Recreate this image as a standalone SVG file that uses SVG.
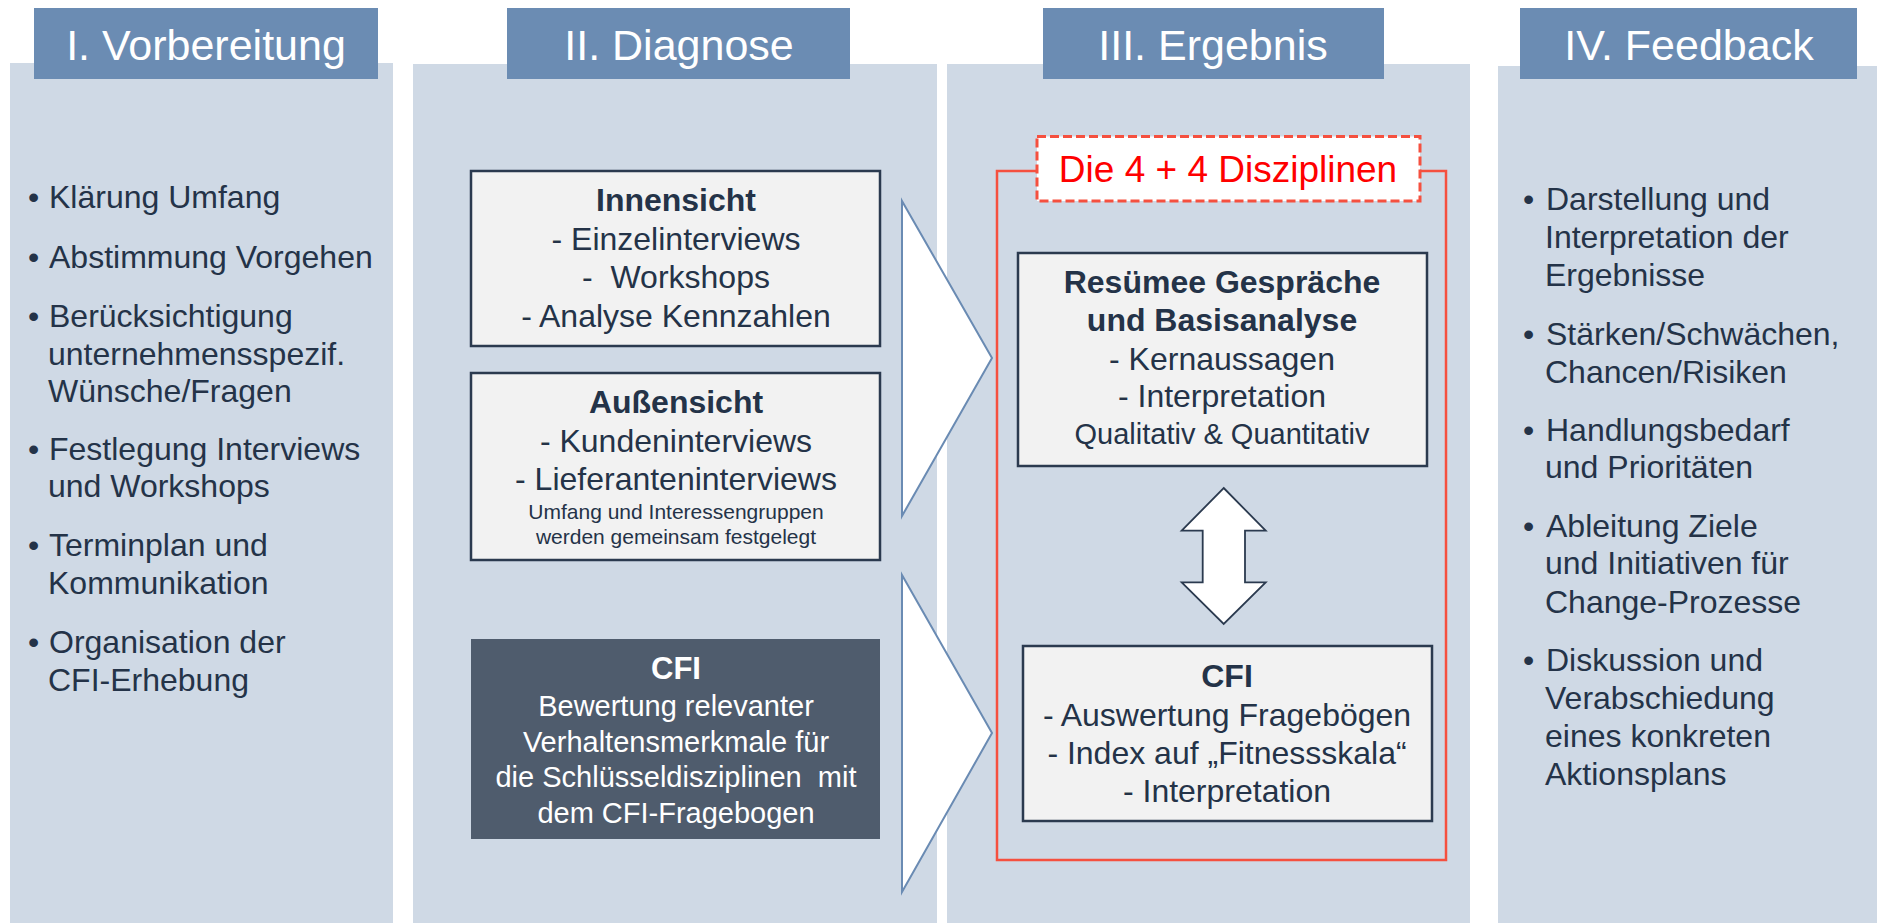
<svg xmlns="http://www.w3.org/2000/svg" width="1877" height="923" viewBox="0 0 1877 923">
<style>
.bg{fill:#CFD9E5}
.hd{fill:#6B8CB3}
.ht{font-family:"Liberation Sans",Arial,sans-serif;font-size:43px;fill:#fff;text-anchor:middle}
.t{font-family:"Liberation Sans",Arial,sans-serif;font-size:32px;fill:#243348}
.w{fill:#fff}
.c{text-anchor:middle}
.b{font-weight:bold}
.s{font-size:21px}
.q{font-size:29px}
.m{font-size:29px}
.box{fill:#F2F2F2;stroke:#2B3A4F;stroke-width:2.5}
.dark{fill:#4F5C6D}
.tri{fill:#fff;stroke:#6A8BB3;stroke-width:2}
.dbl{fill:#fff;stroke:#2B3A4F;stroke-width:1.8}
.frame{fill:none;stroke:#F5503F;stroke-width:2.5}
.lbl{fill:#fff;stroke:#F5503F;stroke-width:3;stroke-dasharray:9 4}
.red{font-family:"Liberation Sans",Arial,sans-serif;font-size:37px;fill:#FF0000;text-anchor:middle}
</style>
<rect width="1877" height="923" fill="#fff"/>

<g id="col1">
<rect class="bg" x="10" y="63" width="383" height="860"/>
<rect class="hd" x="34" y="8" width="344" height="71"/>
<text class="ht" x="206" y="60">I. Vorbereitung</text>
<g class="t">
<text x="28" y="208">•</text><text x="49" y="208">Klärung Umfang</text>
<text x="28" y="268">•</text><text x="49" y="268">Abstimmung Vorgehen</text>
<text x="28" y="327">•</text><text x="49" y="327">Berücksichtigung</text>
<text x="48" y="365">unternehmensspezif.</text>
<text x="48" y="402">Wünsche/Fragen</text>
<text x="28" y="460">•</text><text x="49" y="460">Festlegung Interviews</text>
<text x="48" y="497">und Workshops</text>
<text x="28" y="556">•</text><text x="49" y="556">Terminplan und</text>
<text x="48" y="594">Kommunikation</text>
<text x="28" y="653">•</text><text x="49" y="653">Organisation der</text>
<text x="48" y="691">CFI-Erhebung</text>
</g>
</g>

<g id="col2">
<rect class="bg" x="413" y="64" width="524" height="859"/>
<rect class="hd" x="507" y="8" width="343" height="71"/>
<text class="ht" x="679" y="60">II. Diagnose</text>
</g>

<g id="col3">
<rect class="bg" x="947" y="64" width="523" height="859"/>
<rect class="hd" x="1043" y="8" width="341" height="71"/>
<text class="ht" x="1213" y="60">III. Ergebnis</text>
</g>

<g id="col4">
<rect class="bg" x="1498" y="66" width="379" height="857"/>
<rect class="hd" x="1520" y="8" width="337" height="71"/>
<text class="ht" x="1689" y="60">IV. Feedback</text>
<g class="t">
<text x="1523" y="210">•</text><text x="1546" y="210">Darstellung und</text>
<text x="1545" y="248">Interpretation der</text>
<text x="1545" y="286">Ergebnisse</text>
<text x="1523" y="345">•</text><text x="1546" y="345">Stärken/Schwächen,</text>
<text x="1545" y="383">Chancen/Risiken</text>
<text x="1523" y="441">•</text><text x="1546" y="441">Handlungsbedarf</text>
<text x="1545" y="478">und Prioritäten</text>
<text x="1523" y="537">•</text><text x="1546" y="537">Ableitung Ziele</text>
<text x="1545" y="574">und Initiativen für</text>
<text x="1545" y="613">Change-Prozesse</text>
<text x="1523" y="671">•</text><text x="1546" y="671">Diskussion und</text>
<text x="1545" y="709">Verabschiedung</text>
<text x="1545" y="747">eines konkreten</text>
<text x="1545" y="785">Aktionsplans</text>
</g>
</g>

<g id="connectors">
<path class="tri" d="M902,201 L992,358 L902,516 Z"/>
<path class="tri" d="M902,575 L992,733 L902,892 Z"/>
<path class="dbl" d="M1223.7,488 L1265.7,530.7 L1245,530.7 L1245,582.3 L1265.7,582.3 L1223.7,624 L1181.7,582.3 L1202.7,582.3 L1202.7,530.7 L1181.7,530.7 Z"/>
</g>

<g id="innensicht">
<rect class="box" x="471" y="171" width="409" height="175"/>
<g class="t c">
<text class="b" x="676" y="211">Innensicht</text>
<text x="676" y="249.5">- Einzelinterviews</text>
<text x="676" y="288" xml:space="preserve">-  Workshops</text>
<text x="676" y="326.5">- Analyse Kennzahlen</text>
</g>
</g>

<g id="aussensicht">
<rect class="box" x="471" y="373" width="409" height="187"/>
<g class="t c">
<text class="b" x="676" y="413">Außensicht</text>
<text x="676" y="451.5">- Kundeninterviews</text>
<text x="676" y="490">- Lieferanteninterviews</text>
<text class="s" x="676" y="519">Umfang und Interessengruppen</text>
<text class="s" x="676" y="544">werden gemeinsam festgelegt</text>
</g>
</g>

<g id="cfi-diagnose">
<rect class="dark" x="471" y="639" width="409" height="200"/>
<g class="t c w">
<text class="b w" x="676" y="679" style="font-size:31px">CFI</text>
<text class="m w" x="676" y="716">Bewertung relevanter</text>
<text class="m w" x="676" y="751.5">Verhaltensmerkmale für</text>
<text class="m w" x="676" y="787" xml:space="preserve">die Schlüsseldisziplinen  mit</text>
<text class="m w" x="676" y="822.5">dem CFI-Fragebogen</text>
</g>
</g>

<g id="disziplinen">
<rect class="frame" x="997" y="171" width="449" height="689"/>
<rect class="lbl" x="1037" y="136.5" width="383" height="64.5"/>
<text class="red" x="1228" y="182">Die 4 + 4 Disziplinen</text>
</g>

<g id="resuemee">
<rect class="box" x="1018" y="253" width="409" height="213"/>
<g class="t c">
<text class="b" x="1222" y="293">Resümee Gespräche</text>
<text class="b" x="1222" y="331">und Basisanalyse</text>
<text x="1222" y="370">- Kernaussagen</text>
<text x="1222" y="407">- Interpretation</text>
<text class="q" x="1222" y="444">Qualitativ &amp; Quantitativ</text>
</g>
</g>

<g id="cfi-ergebnis">
<rect class="box" x="1023" y="646" width="409" height="175"/>
<g class="t c">
<text class="b" x="1227" y="687">CFI</text>
<text x="1227" y="725.5">- Auswertung Fragebögen</text>
<text x="1227" y="763.5">- Index auf „Fitnessskala“</text>
<text x="1227" y="802">- Interpretation</text>
</g>
</g>
</svg>
